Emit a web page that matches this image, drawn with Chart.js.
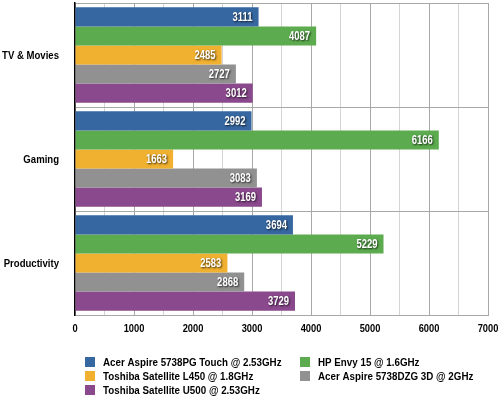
<!DOCTYPE html>
<html>
<head>
<meta charset="utf-8">
<script src="https://cdn.jsdelivr.net/npm/chart.js@4/dist/chart.umd.min.js"></script>
<style>
  html, body { margin: 0; padding: 0; background: #fff; }
  #wrap { width: 499px; height: 400px; }
</style>
</head>
<body>
<div id="wrap"><canvas id="grafica" width="499" height="400"></canvas></div>
<script>
"use strict";

// categorias y datos
const categorias = ["TV & Movies", "Gaming", "Productivity"];
const acer5738pg = [3111, 2992, 3694];
const hpEnvy15 = [4087, 6166, 5229];
const toshibaL450 = [2485, 1663, 2583];
const acer5738dzg = [2727, 3083, 2868];
const toshibaU500 = [3012, 3169, 3729];
const ticksX = [0, 1000, 2000, 3000, 4000, 5000, 6000, 7000];

const fuente = "'Liberation Sans', Arial, sans-serif";

// texto angosto (la fuente original es condensada)
function textoAngosto(ctx, texto, x, y, align, escala) {
    ctx.save();
    ctx.translate(x, y);
    ctx.scale(escala, 1);
    ctx.textAlign = align;
    ctx.fillText(texto, 0, 0);
    ctx.restore();
}

// etiquetas de los ejes
const etiquetasEjes = {
    id: "etiquetasEjes",
    afterDraw(chart) {
        const ctx = chart.ctx;
        const sx = chart.scales.x, sy = chart.scales.y;
        ctx.save();
        ctx.fillStyle = "#000";
        ctx.textBaseline = "middle";
        ctx.font = "bold 10px " + fuente;
        ticksX.forEach(v => {
            textoAngosto(ctx, String(v), sx.getPixelForValue(v), sx.top + 14, "center", 0.93);
        });
        ctx.font = "bold 11px " + fuente;
        categorias.forEach((c, i) => {
            textoAngosto(ctx, c, sy.right - 16, sy.getPixelForValue(i) + 1, "right", 0.87);
        });
        ctx.restore();
    }
};

// etiquetas blancas al final de cada barra
const etiquetasBarras = {
    id: "etiquetasBarras",
    afterDatasetsDraw(chart) {
        const ctx = chart.ctx;
        ctx.save();
        ctx.font = "bold 12px " + fuente;
        ctx.fillStyle = "#fff";
        ctx.textBaseline = "middle";
        ctx.shadowColor = "rgba(0,0,0,0.75)";
        ctx.shadowBlur = 2;
        ctx.shadowOffsetX = 1;
        ctx.shadowOffsetY = 1;
        chart.data.datasets.forEach((ds, i) => {
            chart.getDatasetMeta(i).data.forEach((bar, j) => {
                textoAngosto(ctx, String(ds.data[j]), bar.x - 6, bar.y + 1, "right", 0.79);
            });
        });
        ctx.restore();
    }
};

// leyenda en dos columnas
const leyenda = {
    id: "leyenda",
    afterDraw(chart) {
        const ctx = chart.ctx;
        const colX = [85, 300];
        const filaY = [362, 376, 390];
        ctx.save();
        ctx.font = "bold 11px " + fuente;
        ctx.textBaseline = "middle";
        chart.data.datasets.forEach((ds, i) => {
            const x = colX[i % 2];
            const y = filaY[Math.floor(i / 2)];
            ctx.fillStyle = ds.backgroundColor;
            ctx.fillRect(x, y - 5, 10, 10);
            ctx.fillStyle = "#000";
            textoAngosto(ctx, ds.label, x + 18, y + 0.5, "left", 0.89);
        });
        ctx.restore();
    }
};

const ctx = document.getElementById("grafica").getContext("2d");
new Chart(ctx, {
    type: "bar",
    data: {
        labels: categorias,
        datasets: [
            { label: "Acer Aspire 5738PG Touch @ 2.53GHz", data: acer5738pg, backgroundColor: "#3667a0" },
            { label: "HP Envy 15 @ 1.6GHz", data: hpEnvy15, backgroundColor: "#5cab4f" },
            { label: "Toshiba Satellite L450 @ 1.8GHz", data: toshibaL450, backgroundColor: "#f0b030" },
            { label: "Acer Aspire 5738DZG 3D @ 2GHz", data: acer5738dzg, backgroundColor: "#919191" },
            { label: "Toshiba Satellite U500 @ 2.53GHz", data: toshibaU500, backgroundColor: "#8a488d" }
        ]
    },
    options: {
        indexAxis: "y",
        responsive: false,
        animation: false,
        barPercentage: 1,
        categoryPercentage: 0.917,
        layout: { padding: { top: 3, right: 11, bottom: 60, left: 0 } },
        plugins: {
            legend: { display: false },
            tooltip: { enabled: false }
        },
        scales: {
            x: {
                min: 0,
                max: 7000,
                afterFit: (s) => { s.height = 25; s.paddingLeft = 0; s.paddingRight = 0; },
                ticks: { display: false, stepSize: 500, autoSkip: false },
                grid: {
                    drawTicks: false,
                    color: (c) => c.tick && c.tick.value % 1000 === 0 ? "#a8a8a8" : "#d4d4d4",
                    lineWidth: 1
                },
                border: { display: true, color: "#a8a8a8" }
            },
            y: {
                afterFit: (s) => { s.width = 75; s.paddingTop = 0; s.paddingBottom = 0; },
                ticks: { display: false },
                grid: {
                    offset: true,
                    drawTicks: false,
                    color: "#a8a8a8",
                    lineWidth: 1
                },
                border: { display: true, color: "#000", width: 1.5 }
            }
        }
    },
    plugins: [etiquetasBarras, etiquetasEjes, leyenda]
});
</script>
</body>
</html>
